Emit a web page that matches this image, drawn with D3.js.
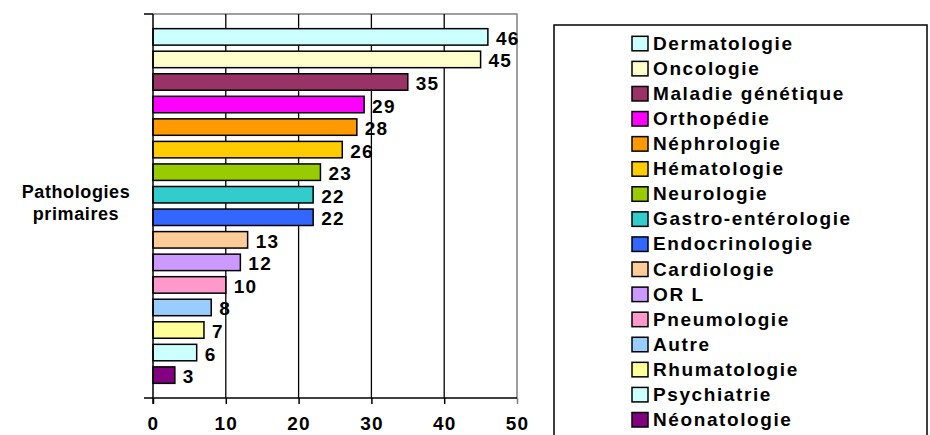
<!DOCTYPE html>
<html>
<head>
<meta charset="utf-8">
<script src="https://cdn.jsdelivr.net/npm/d3@7"></script>
<style>
  body { margin:0; background:#ffffff; }
  text { font-family:"Liberation Sans", Arial, sans-serif; font-weight:bold; fill:#000; }
</style>
</head>
<body>
<div id="chart"></div>
<script>
// series (one bar each), in legend order
var categories = ["Dermatologie","Oncologie","Maladie génétique","Orthopédie","Néphrologie",
  "Hématologie","Neurologie","Gastro-entérologie","Endocrinologie","Cardiologie","ORL",
  "Pneumologie","Autre","Rhumatologie","Psychiatrie","Néonatologie"];
var values = [46,45,35,29,28,26,23,22,22,13,12,10,8,7,6,3];
var colours = ["#ccffff","#ffffcc","#993366","#ff00ff","#ff9900","#ffcc00","#99cc00","#33cccc",
  "#3366ff","#ffcc99","#cc99ff","#ff99cc","#99ccff","#ffff99","#ccffff","#800080"];
var legendLabels = ["Dermatologie","Oncologie","Maladie génétique","Orthopédie","Néphrologie",
  "Hématologie","Neurologie","Gastro-entérologie","Endocrinologie","Cardiologie","OR L",
  "Pneumologie","Autre","Rhumatologie","Psychiatrie","Néonatologie"];
var xTicks = [0,10,20,30,40,50];
var groupLabel = ["Pathologies","primaires"];

var width = 930, height = 435;
var plot = {left:153, right:517, top:14, bottom:398};

var svg = d3.select("#chart").append("svg")
  .attr("width", width)
  .attr("height", height);

var x = d3.scaleLinear().domain([0,50]).range([plot.left, plot.right]);
var y = d3.scaleBand().domain(categories)
  .range([plot.top, plot.bottom])
  .paddingInner(0.27)
  .paddingOuter(0.65);

// plot border (grey top and right)
svg.append("path")
  .attr("d", "M" + plot.left + "," + plot.top + "H" + plot.right + "V" + plot.bottom)
  .attr("fill","none")
  .attr("stroke","#808080")
  .attr("stroke-width",1.5);

// vertical gridlines
svg.selectAll(".grid")
  .data(xTicks.slice(1, -1))
  .enter().append("line")
  .attr("class","grid")
  .attr("x1", function(d) { return x(d); })
  .attr("x2", function(d) { return x(d); })
  .attr("y1", plot.top)
  .attr("y2", plot.bottom)
  .attr("stroke","#000")
  .attr("stroke-width",1.3);

// bars
svg.selectAll(".bar")
  .data(categories)
  .enter().append("rect")
  .attr("class","bar")
  .attr("x", x(0))
  .attr("y", function(d) { return y(d); })
  .attr("width", function(d,i) { return x(values[i]) - x(0); })
  .attr("height", y.bandwidth())
  .attr("fill", function(d,i) { return colours[i]; })
  .attr("stroke","#000")
  .attr("stroke-width",1.5);

// value labels
svg.selectAll(".val")
  .data(categories)
  .enter().append("text")
  .attr("class","val")
  .attr("x", function(d,i) { return x(values[i]) + 8; })
  .attr("y", function(d) { return y(d) + y.bandwidth()/2 + 8; })
  .style("font-size","19px")
  .style("letter-spacing","1.2px")
  .text(function(d,i) { return values[i]; });

// bottom axis
var xAxis = d3.axisBottom(x).tickValues(xTicks).tickSize(6).tickPadding(0);
var gx = svg.append("g")
  .attr("transform","translate(0," + plot.bottom + ")")
  .call(xAxis);
gx.select(".domain").remove();
gx.selectAll(".tick line").attr("stroke","#000").attr("stroke-width",1.5);
gx.selectAll(".tick text")
  .style("font-family","Liberation Sans, Arial, sans-serif")
  .style("font-weight","bold")
  .style("font-size","19px")
  .style("letter-spacing","1.2px")
  .attr("y", 32)
  .attr("dy", null);
// right-most tick in grey
gx.selectAll(".tick").filter(function(d) { return d === 50; }).select("line").attr("stroke","#808080");

svg.append("line")
  .attr("x1", plot.left - 9).attr("x2", plot.right)
  .attr("y1", plot.bottom).attr("y2", plot.bottom)
  .attr("stroke","#000").attr("stroke-width",1.5);

// left axis
svg.append("line")
  .attr("x1", plot.left).attr("x2", plot.left)
  .attr("y1", plot.top).attr("y2", plot.bottom + 6)
  .attr("stroke","#000").attr("stroke-width",1.5);
svg.append("line")
  .attr("x1", plot.left - 9).attr("x2", plot.left)
  .attr("y1", plot.top).attr("y2", plot.top)
  .attr("stroke","#000").attr("stroke-width",1.5);

// category label
svg.append("text")
  .attr("x", 76)
  .attr("text-anchor","middle")
  .style("font-size","18px")
  .style("letter-spacing","0.6px")
  .selectAll("tspan")
  .data(groupLabel)
  .enter().append("tspan")
  .attr("x", 76)
  .attr("y", function(d,i) { return 198 + i*21.5; })
  .text(function(d) { return d; });

// legend
svg.append("path")
  .attr("d","M554,436V25H927V436")
  .attr("fill","none")
  .attr("stroke","#000")
  .attr("stroke-width",1.5);

var legend = svg.selectAll(".legendEntry")
  .data(legendLabels)
  .enter().append("g")
  .attr("class","legendEntry")
  .attr("transform", function(d,i) { return "translate(632," + (43.3 + i*25.08) + ")"; });

legend.append("rect")
  .attr("x",0).attr("y",-7)
  .attr("width",16).attr("height",14.5)
  .attr("fill", function(d,i) { return colours[i]; })
  .attr("stroke","#000")
  .attr("stroke-width",1.5);

legend.append("text")
  .attr("x",21)
  .attr("y",6.5)
  .style("font-size","19px")
  .style("letter-spacing","1.6px")
  .text(function(d) { return d; });
</script>
</body>
</html>
